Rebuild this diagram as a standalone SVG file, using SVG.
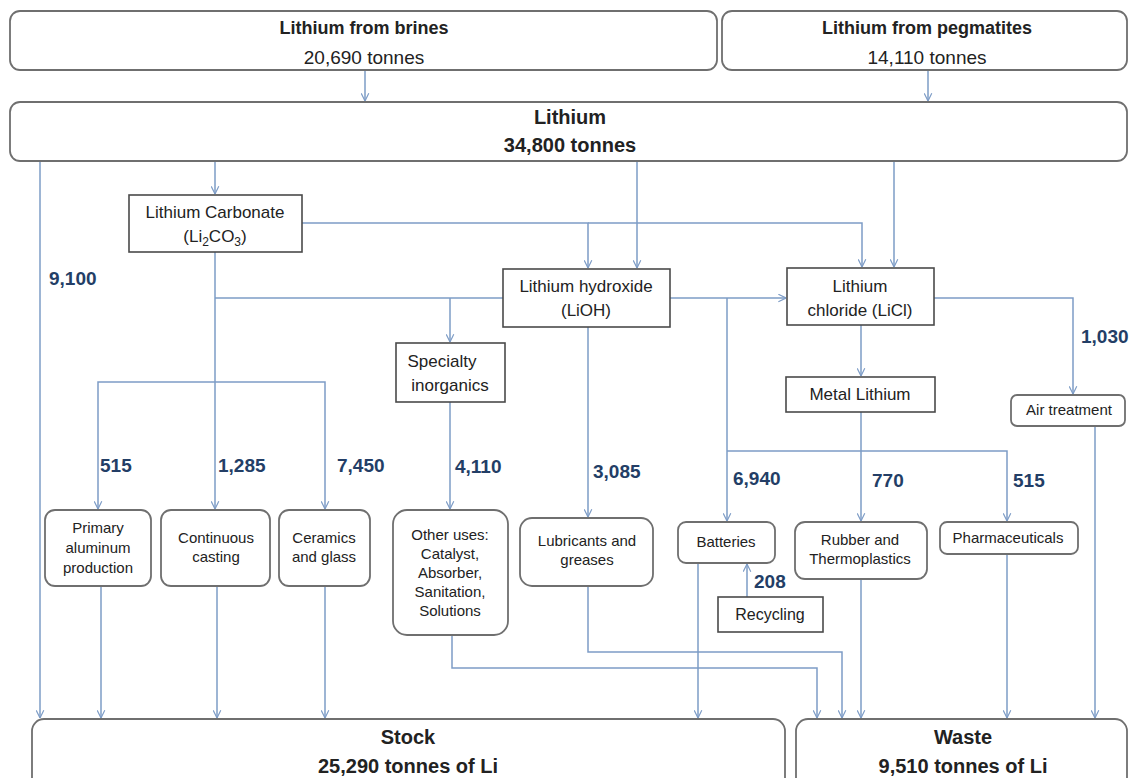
<svg xmlns="http://www.w3.org/2000/svg" width="1130" height="778" viewBox="0 0 1130 778">
<defs>
<marker id="arr" viewBox="0 0 10 10" refX="9.5" refY="5" markerWidth="9" markerHeight="9" markerUnits="userSpaceOnUse" orient="auto">
<path d="M1,0.8 L9.5,5 L1,9.2" fill="none" stroke="#7d9cc6" stroke-width="1.3"/>
</marker>
<style>
.rb{fill:#fff;stroke:#6f6f6f;stroke-width:1.8}
.sb{fill:#fff;stroke:#4a4a4a;stroke-width:1.6}
.t{font-family:"Liberation Sans",Arial,sans-serif;fill:#222;text-anchor:middle}
.b{font-weight:bold}
.lab{font-family:"Liberation Sans",Arial,sans-serif;font-weight:bold;font-size:19px;fill:#233e66}
.c path{fill:none;stroke:#7d9cc6;stroke-width:1.5}
</style>
</defs>
<rect width="1130" height="778" fill="#fff"/>

<g class="c" id="connectors">
<path d="M365,70 V101" marker-end="url(#arr)"/>
<path d="M928,70 V101" marker-end="url(#arr)"/>
<path d="M40,161 V718" marker-end="url(#arr)"/>
<path d="M215,161 V194" marker-end="url(#arr)"/>
<path d="M637,161 V268" marker-end="url(#arr)"/>
<path d="M894,161 V267" marker-end="url(#arr)"/>
<path d="M302,223 H588 V268" marker-end="url(#arr)"/>
<path d="M588,223 H862 V267" marker-end="url(#arr)"/>
<path d="M215,252 V509" marker-end="url(#arr)"/>
<path d="M215,298 H503"/>
<path d="M450,298 V342" marker-end="url(#arr)"/>
<path d="M215,382 H98 V509" marker-end="url(#arr)"/>
<path d="M215,382 H325 V509" marker-end="url(#arr)"/>
<path d="M450,402 V509" marker-end="url(#arr)"/>
<path d="M588,327 V517" marker-end="url(#arr)"/>
<path d="M670,298 H786" marker-end="url(#arr)"/>
<path d="M727,298 V521" marker-end="url(#arr)"/>
<path d="M727,451 H1007 V521" marker-end="url(#arr)"/>
<path d="M861,325 V376" marker-end="url(#arr)"/>
<path d="M861,412 V521" marker-end="url(#arr)"/>
<path d="M934,298 H1073 V394" marker-end="url(#arr)"/>
<path d="M1095,426 V718" marker-end="url(#arr)"/>
<path d="M101,586 V718" marker-end="url(#arr)"/>
<path d="M217,586 V718" marker-end="url(#arr)"/>
<path d="M325,586 V718" marker-end="url(#arr)"/>
<path d="M452,635 V668 H817 V718" marker-end="url(#arr)"/>
<path d="M588,586 V652 H842 V718" marker-end="url(#arr)"/>
<path d="M698,563 V718" marker-end="url(#arr)"/>
<path d="M747,597 V564" marker-end="url(#arr)"/>
<path d="M861,579 V718" marker-end="url(#arr)"/>
<path d="M1007,554 V718" marker-end="url(#arr)"/>
</g>

<g id="brines">
<rect class="rb" x="10" y="11" width="707" height="59" rx="10"/>
<text class="t b" x="364" y="34" font-size="18">Lithium from brines</text>
<text class="t" x="364" y="64" font-size="19">20,690 tonnes</text>
</g>
<g id="pegmatites">
<rect class="rb" x="722" y="11" width="405" height="59" rx="10"/>
<text class="t b" x="927" y="34" font-size="18">Lithium from pegmatites</text>
<text class="t" x="927" y="64" font-size="19">14,110 tonnes</text>
</g>
<g id="lithium">
<rect class="rb" x="10" y="102" width="1117" height="59" rx="10"/>
<text class="t b" x="570" y="124" font-size="20">Lithium</text>
<text class="t b" x="570" y="152" font-size="20">34,800 tonnes</text>
</g>
<g id="carbonate">
<rect class="sb" x="129" y="195" width="173" height="57"/>
<text class="t" x="215" y="218" font-size="17">Lithium Carbonate</text>
<text class="t" x="215" y="242" font-size="17">(Li<tspan font-size="12" dy="4">2</tspan><tspan dy="-4">CO</tspan><tspan font-size="12" dy="4">3</tspan><tspan dy="-4">)</tspan></text>
</g>
<g id="hydroxide">
<rect class="sb" x="503" y="269" width="167" height="58"/>
<text class="t" x="586" y="292" font-size="17">Lithium hydroxide</text>
<text class="t" x="586" y="316" font-size="17">(LiOH)</text>
</g>
<g id="chloride">
<rect class="sb" x="787" y="268" width="147" height="57"/>
<text class="t" x="860" y="292" font-size="17">Lithium</text>
<text class="t" x="860" y="316" font-size="17">chloride (LiCl)</text>
</g>
<g id="specialty">
<rect class="sb" x="396" y="343" width="109" height="59"/>
<text class="t" x="442" y="367" font-size="17">Specialty</text>
<text class="t" x="450" y="391" font-size="17">inorganics</text>
</g>
<g id="metal">
<rect class="sb" x="786" y="377" width="149" height="35"/>
<text class="t" x="860" y="400" font-size="17">Metal Lithium</text>
</g>
<g id="air">
<rect class="rb" x="1011" y="395" width="114" height="31" rx="6"/>
<text class="t" x="1069" y="415" font-size="15">Air treatment</text>
</g>
<g id="primary">
<rect class="rb" x="45" y="510" width="106" height="76" rx="10"/>
<text class="t" x="98" y="533" font-size="15">Primary</text>
<text class="t" x="98" y="553" font-size="15">aluminum</text>
<text class="t" x="98" y="573" font-size="15">production</text>
</g>
<g id="continuous">
<rect class="rb" x="161" y="510" width="109" height="76" rx="10"/>
<text class="t" x="216" y="543" font-size="15">Continuous</text>
<text class="t" x="216" y="562" font-size="15">casting</text>
</g>
<g id="ceramics">
<rect class="rb" x="279" y="510" width="91" height="76" rx="10"/>
<text class="t" x="324" y="543" font-size="15">Ceramics</text>
<text class="t" x="324" y="562" font-size="15">and glass</text>
</g>
<g id="other">
<rect class="rb" x="393" y="510" width="115" height="125" rx="14"/>
<text class="t" x="450" y="540" font-size="15">Other uses:</text>
<text class="t" x="450" y="559" font-size="15">Catalyst,</text>
<text class="t" x="450" y="578" font-size="15">Absorber,</text>
<text class="t" x="450" y="597" font-size="15">Sanitation,</text>
<text class="t" x="450" y="616" font-size="15">Solutions</text>
</g>
<g id="lubricants">
<rect class="rb" x="520" y="518" width="133" height="68" rx="12"/>
<text class="t" x="587" y="546" font-size="15">Lubricants and</text>
<text class="t" x="587" y="565" font-size="15">greases</text>
</g>
<g id="batteries">
<rect class="rb" x="678" y="522" width="97" height="41" rx="8"/>
<text class="t" x="726" y="547" font-size="15">Batteries</text>
</g>
<g id="recycling">
<rect class="sb" x="718" y="597" width="105" height="35"/>
<text class="t" x="770" y="620" font-size="16">Recycling</text>
</g>
<g id="rubber">
<rect class="rb" x="795" y="522" width="132" height="57" rx="10"/>
<text class="t" x="860" y="545" font-size="15">Rubber and</text>
<text class="t" x="860" y="564" font-size="15">Thermoplastics</text>
</g>
<g id="pharma">
<rect class="rb" x="940" y="522" width="138" height="32" rx="7"/>
<text class="t" x="1008" y="543" font-size="15">Pharmaceuticals</text>
</g>
<g id="stock">
<rect class="rb" x="32" y="719" width="753" height="80" rx="12"/>
<text class="t b" x="408" y="744" font-size="20">Stock</text>
<text class="t b" x="408" y="773" font-size="20">25,290 tonnes of Li</text>
</g>
<g id="waste">
<rect class="rb" x="796" y="719" width="331" height="80" rx="12"/>
<text class="t b" x="963" y="744" font-size="20">Waste</text>
<text class="t b" x="963" y="773" font-size="20">9,510 tonnes of Li</text>
</g>

<g id="labels">
<text class="lab" x="49" y="285">9,100</text>
<text class="lab" x="100" y="472">515</text>
<text class="lab" x="218" y="472">1,285</text>
<text class="lab" x="337" y="472">7,450</text>
<text class="lab" x="455" y="473">4,110</text>
<text class="lab" x="593" y="478">3,085</text>
<text class="lab" x="733" y="485">6,940</text>
<text class="lab" x="872" y="487">770</text>
<text class="lab" x="1013" y="487">515</text>
<text class="lab" x="1081" y="343">1,030</text>
<text class="lab" x="754" y="588">208</text>
</g>
</svg>
